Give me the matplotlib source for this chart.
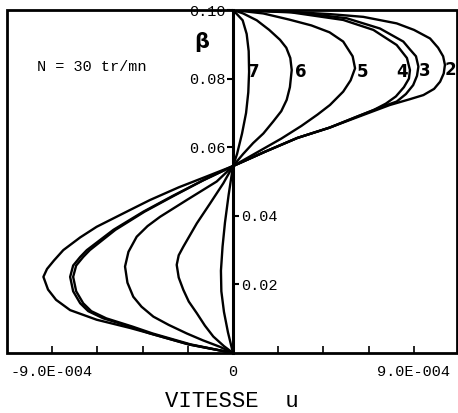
import matplotlib.pyplot as plt
from matplotlib.patches import Rectangle

# velocity profiles u(beta), bottom (beta=0) to top (beta=0.10)
u2 = [0, -2.2e-4, -4.13e-4, -5.12e-4, -6.78e-4, -8.1e-4, -8.8e-4, -9.2e-4, -9.43e-4,
      -9.25e-4, -8.9e-4, -8.44e-4, -7.6e-4, -6.78e-4, -5.12e-4, -4.13e-4, -2.7e-4, -1.3e-4, 0,
      1.6e-4, 3.2e-4, 4.8e-4, 6.48e-4, 7.8e-4, 8.8e-4, 9.47e-4, 1.0e-3, 1.03e-3, 1.048e-3,
      1.054e-3, 1.045e-3, 1.02e-3, 9.8e-4, 9.0e-4, 8.14e-4, 6.48e-4, 4.82e-4, 2.4e-4, 0]
y2 = [0, 0.0025, 0.0057, 0.0073, 0.0097, 0.0125, 0.0155, 0.0185, 0.0222,
      0.0245, 0.0270, 0.0300, 0.0337, 0.0368, 0.0417, 0.0446, 0.0483, 0.0515, 0.0545,
      0.0587, 0.0627, 0.0657, 0.0694, 0.0723, 0.0740, 0.0752, 0.0770, 0.0791, 0.0815,
      0.0840, 0.0865, 0.0890, 0.0917, 0.0942, 0.0961, 0.0980, 0.0988, 0.0996, 0.1000]

u3 = [0, -2.2e-4, -4.13e-4, -5.12e-4, -6.45e-4, -7.2e-4, -7.6e-4, -7.95e-4, -8.1e-4,
      -7.95e-4, -7.6e-4, -7.27e-4, -5.95e-4, -4.46e-4, -3.0e-4, -1.5e-4, 0,
      1.6e-4, 3.2e-4, 4.8e-4, 6.2e-4, 6.98e-4, 7.6e-4, 8.14e-4, 8.6e-4, 8.96e-4, 9.15e-4,
      9.22e-4, 9.1e-4, 8.8e-4, 8.47e-4, 7.31e-4, 5.65e-4, 3.0e-4, 0]
y3 = [0, 0.0025, 0.0057, 0.0077, 0.0101, 0.0122, 0.0145, 0.0180, 0.0222,
      0.0255, 0.0280, 0.0300, 0.0359, 0.0412, 0.0458, 0.0503, 0.0545,
      0.0587, 0.0627, 0.0657, 0.0690, 0.0708, 0.0722, 0.0733, 0.0755, 0.0781, 0.0808,
      0.0835, 0.0865, 0.0885, 0.0908, 0.0946, 0.0976, 0.0994, 0.1000]

u4 = [0, -2.1e-4, -4.0e-4, -5.0e-4, -6.3e-4, -7.05e-4, -7.45e-4, -7.8e-4, -7.95e-4,
      -7.8e-4, -7.45e-4, -7.12e-4, -5.85e-4, -4.4e-4, -2.95e-4, -1.5e-4, 0,
      1.6e-4, 3.2e-4, 4.8e-4, 6.2e-4, 6.98e-4, 7.6e-4, 8.1e-4, 8.5e-4, 8.75e-4,
      8.8e-4, 8.65e-4, 8.14e-4, 6.98e-4, 5.48e-4, 2.9e-4, 0]
y4 = [0, 0.0025, 0.0057, 0.0077, 0.0101, 0.0122, 0.0145, 0.0180, 0.0222,
      0.0255, 0.0280, 0.0300, 0.0359, 0.0412, 0.0458, 0.0503, 0.0545,
      0.0587, 0.0627, 0.0657, 0.0690, 0.0708, 0.0727, 0.0748, 0.0775, 0.0800,
      0.0825, 0.0860, 0.0898, 0.0942, 0.0971, 0.0993, 0.1000]

u5 = [0, -6.5e-5, -1.5e-4, -2.3e-4, -3.2e-4, -3.96e-4, -4.55e-4, -4.96e-4, -5.25e-4,
      -5.37e-4, -5.2e-4, -4.79e-4, -4.25e-4, -3.63e-4, -2.3e-4, -8.1e-5, 0,
      1.2e-4, 2.4e-4, 3.4e-4, 4.2e-4, 4.82e-4, 5.48e-4, 5.85e-4, 6.07e-4,
      5.95e-4, 5.48e-4, 4.8e-4, 3.9e-4, 2.8e-4, 1.5e-4, 0]
y5 = [0, 0.0018, 0.0037, 0.0057, 0.0082, 0.0106, 0.0135, 0.0164, 0.0205,
      0.0252, 0.0295, 0.0339, 0.0370, 0.0397, 0.0446, 0.0500, 0.0545,
      0.0585, 0.0625, 0.0662, 0.0695, 0.0723, 0.0762, 0.0795, 0.0830,
      0.0865, 0.0908, 0.0935, 0.0955, 0.0972, 0.0990, 0.1000]

u6 = [0, -4.5e-5, -9.8e-5, -1.4e-4, -1.8e-4, -2.2e-4, -2.47e-4, -2.7e-4, -2.8e-4,
      -2.7e-4, -2.47e-4, -1.8e-4, -1.14e-4, -4.8e-5, 0,
      5e-5, 1.0e-4, 1.51e-4, 2.0e-4, 2.4e-4, 2.67e-4, 2.83e-4, 2.92e-4,
      2.85e-4, 2.65e-4, 2.34e-4, 1.8e-4, 1.18e-4, 5e-5, 0]
y6 = [0, 0.0020, 0.0048, 0.0080, 0.0116, 0.0150, 0.0184, 0.0220, 0.0257,
      0.0285, 0.0310, 0.0378, 0.0436, 0.0495, 0.0545,
      0.0580, 0.0612, 0.0640, 0.0675, 0.0705, 0.0738, 0.0775, 0.0825,
      0.0860, 0.0890, 0.0913, 0.0942, 0.0970, 0.0990, 0.1000]

u7 = [0, -2.5e-5, -4.5e-5, -5.8e-5, -6.0e-5, -5.2e-5, -4.0e-5, -2.2e-5, 0,
      2e-5, 4.5e-5, 6.5e-5, 7.6e-5, 8.0e-5, 7.8e-5, 6.8e-5, 4.8e-5, 0]
y7 = [0, 0.006, 0.012, 0.018, 0.024, 0.031, 0.038, 0.046, 0.0545,
      0.058, 0.064, 0.070, 0.076, 0.082, 0.088, 0.093, 0.097, 0.100]

curves = [(u2, y2), (u3, y3), (u4, y4), (u5, y5), (u6, y6), (u7, y7)]
curve_names = ['2', '3', '4', '5', '6', '7']
name_x = [1.08e-3, 9.55e-4, 8.4e-4, 6.46e-4, 3.36e-4, 1.04e-4]
name_y = [0.0826, 0.0822, 0.0820, 0.0820, 0.0820, 0.0820]

mono = 'Liberation Mono'

fig = plt.figure(figsize=(4.58, 4.13), dpi=100)
ax = fig.add_axes([7 / 458, 60 / 413, 450 / 458, 343 / 413])

for (u, y) in curves:
    ax.plot(u, y, color='black', lw=1.7, solid_joinstyle='round')

for name, tx, ty in zip(curve_names, name_x, name_y):
    ax.text(tx, ty, name, fontsize=12, fontweight='bold', ha='center', va='center')

ax.set_xlim(-1.124e-3, 1.114e-3)
ax.set_ylim(0, 0.10)

# frame
ax.add_patch(Rectangle((0, 0), 1, 1, transform=ax.transAxes, fill=False,
                       lw=2, edgecolor='black', clip_on=False, zorder=5))
for s in ['top', 'bottom', 'right']:
    ax.spines[s].set_visible(False)

# central beta axis, upper labels on the left
ax.spines['left'].set_position(('data', 0))
ax.spines['left'].set_linewidth(2.2)
ax.set_yticks([0.06, 0.08, 0.10])
ax.set_yticklabels(['0.06', '0.08', '0.10'], family=mono, fontsize=11)
ax.tick_params(axis='y', direction='out', length=4, width=1.5, pad=1)

# lower labels on the right side of the same axis
ax2 = ax.twinx()
ax2.set_ylim(0, 0.10)
for s in ['top', 'bottom', 'left']:
    ax2.spines[s].set_visible(False)
ax2.spines['right'].set_position(('data', 0))
ax2.spines['right'].set_visible(False)
ax2.set_yticks([0.02, 0.04])
ax2.set_yticklabels(['0.02', '0.04'], family=mono, fontsize=11)
ax2.tick_params(axis='y', direction='out', length=4, width=1.5, pad=2)

xt = [-9e-4, -6.75e-4, -4.5e-4, -2.25e-4, 0, 2.25e-4, 4.5e-4, 6.75e-4, 9e-4]
ax.set_xticks(xt)
ax.set_xticklabels(['-9.0E-004', '', '', '', '0', '', '', '', '9.0E-004'],
                   family=mono, fontsize=11)
ax.tick_params(axis='x', direction='in', length=5, width=1.2, pad=9)
ax.set_xlabel('VITESSE  u', family=mono, fontsize=16, labelpad=8)

ax.text(-9.75e-4, 0.0834, 'N = 30 tr/mn', family=mono, fontsize=11, va='center')
ax.text(-1.54e-4, 0.0907, 'β', fontsize=15, fontweight='bold', ha='center', va='center')

fig.savefig('out.png', dpi=100)
